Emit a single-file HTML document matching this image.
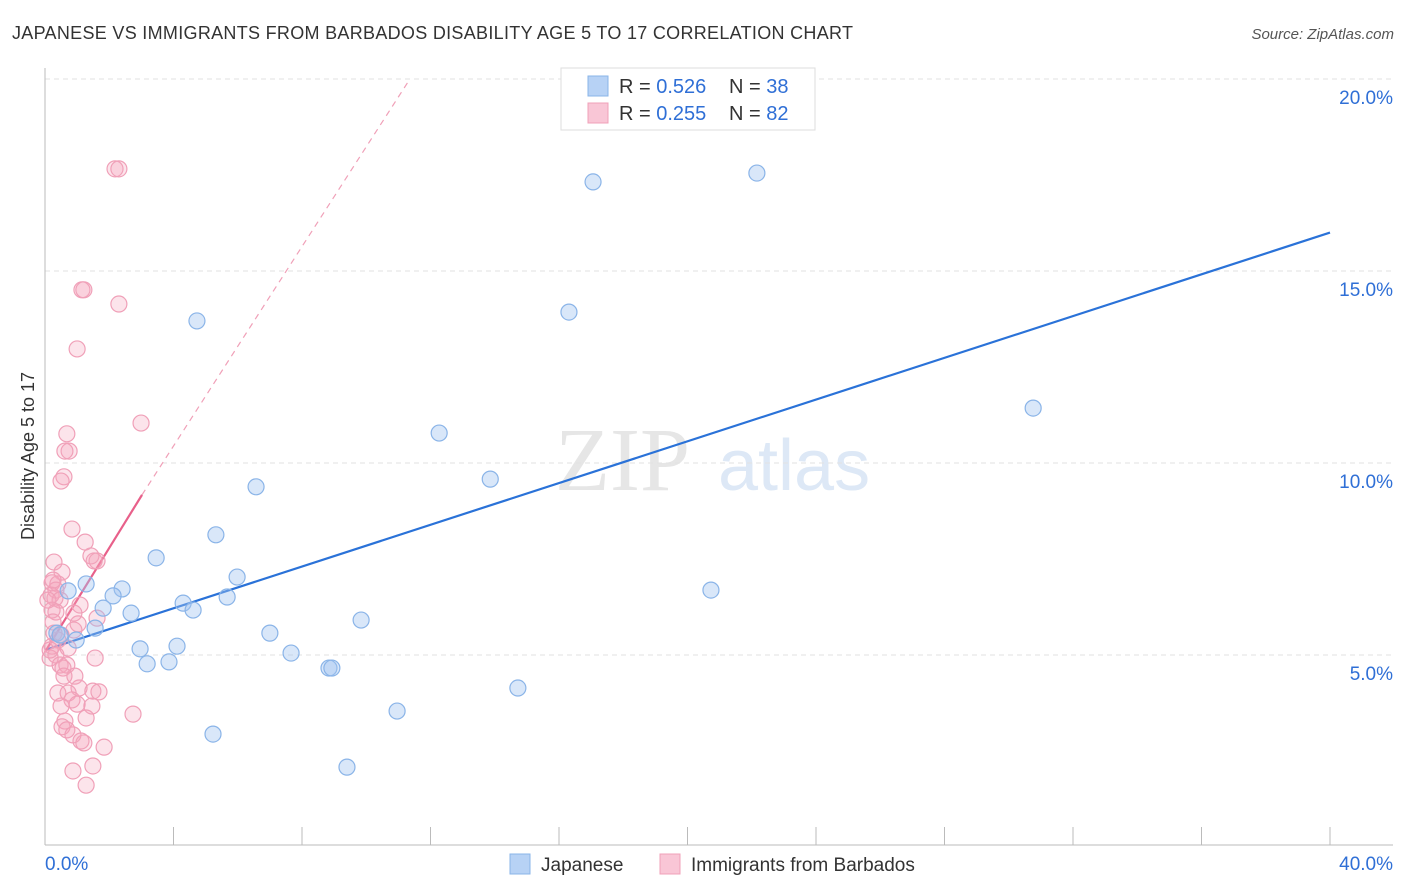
<!DOCTYPE html>
<html><head><meta charset="utf-8"><style>
body{margin:0;background:#fff;font-family:"Liberation Sans",sans-serif}
svg{display:block}
</style></head><body>
<svg id="chart" width="1406" height="892">
<text x="12" y="39" font-size="18" fill="#333" textLength="841">JAPANESE VS IMMIGRANTS FROM BARBADOS DISABILITY AGE 5 TO 17 CORRELATION CHART</text>
<text x="1394" y="39" font-size="15" fill="#555" font-style="italic" text-anchor="end">Source: ZipAtlas.com</text>
<text x="0" y="0" transform="translate(34,456) rotate(-90)" font-size="18" fill="#333" text-anchor="middle">Disability Age 5 to 17</text>
<g><text x="555" y="490" font-size="90" fill="#e6e6e6" font-family="Liberation Serif,serif">ZIP</text><text x="718" y="490" font-size="72" fill="#dde8f6">atlas</text></g>
<g id="grid"></g><g id="axes"></g><g id="lines"></g><g id="pts"></g>
<g>
<rect x="561" y="68" width="254" height="62" fill="#fff" stroke="#ddd"/>
<rect x="588" y="76" width="20" height="20" fill="#b7d2f5" stroke="#8ab4e8"/>
<text x="619" y="93" font-size="20" fill="#333">R = <tspan fill="#2f6fd6">0.526</tspan></text>
<text x="729" y="93" font-size="20" fill="#333">N = <tspan fill="#2f6fd6">38</tspan></text>
<rect x="588" y="103" width="20" height="20" fill="#f9c6d6" stroke="#f0a0b8"/>
<text x="619" y="120" font-size="20" fill="#333">R = <tspan fill="#2f6fd6">0.255</tspan></text>
<text x="729" y="120" font-size="20" fill="#333">N = <tspan fill="#2f6fd6">82</tspan></text>
</g>
<g>
<rect x="510" y="854" width="20" height="20" fill="#b7d2f5" stroke="#8ab4e8"/>
<text x="541" y="871" font-size="19" fill="#333">Japanese</text>
<rect x="660" y="854" width="20" height="20" fill="#f9c6d6" stroke="#f0a0b8"/>
<text x="691" y="871" font-size="19" fill="#333">Immigrants from Barbados</text>
</g>
</svg>
<script>
const yTicks=[5,10,15,20];
const xTickLabels=["0.0%","40.0%"];
const blueX=[4.73,17.06,22.16,16.31,30.76,12.27,13.86,6.57,5.32,3.46,5.98,20.73,2.40,1.28,2.12,4.30,5.67,1.81,4.61,2.68,9.84,1.56,0.37,7.00,4.11,2.96,7.66,3.18,3.86,8.84,8.93,14.72,10.96,5.23,9.40,0.97,0.72,0.47];
const blueY=[13.70,17.32,17.55,13.93,11.43,10.78,9.58,9.38,8.13,7.53,7.03,6.69,6.72,6.85,6.54,6.35,6.51,6.22,6.17,6.09,5.91,5.70,5.57,5.57,5.23,5.16,5.05,4.77,4.82,4.66,4.66,4.14,3.54,2.94,2.08,5.39,6.67,5.52];
const pinkX=[2.18,2.30,1.15,1.21,2.30,1.00,2.99,0.68,0.75,0.62,0.59,0.50,0.84,1.25,1.43,1.62,1.53,0.28,0.53,0.22,0.40,0.34,0.19,0.31,0.47,1.09,0.22,0.34,0.90,1.62,0.25,1.03,0.28,0.50,0.90,0.40,0.22,0.72,0.34,1.56,0.16,0.47,0.68,0.56,0.93,0.59,1.06,0.40,1.49,1.68,0.72,0.84,1.00,1.46,0.50,1.28,2.74,0.62,0.53,0.68,0.87,1.12,1.21,1.84,1.49,0.87,1.28,0.16,0.09,0.25];
const pinkY=[17.66,17.66,14.51,14.51,14.14,12.97,11.04,10.76,10.31,10.31,9.64,9.53,8.28,7.94,7.58,7.45,7.45,7.42,7.16,6.88,6.85,6.69,6.56,6.48,6.43,6.30,6.17,6.12,6.09,5.96,5.86,5.81,5.57,5.52,5.65,5.39,5.23,5.18,5.00,4.92,4.92,4.74,4.74,4.66,4.45,4.45,4.14,4.01,4.06,4.04,4.01,3.83,3.72,3.67,3.67,3.36,3.46,3.28,3.13,3.05,2.92,2.76,2.71,2.60,2.11,1.98,1.61,5.13,6.43,6.95];
const blueLine=[[0,5.13],[40,16.0]];
const pinkSolid=[[0,5.08],[3.02,9.17]];
const pinkDash=[[3.02,9.17],[11.36,20]];
const X=v=>45+v/40*1285, Y=v=>847-v*38.4;
const NS="http://www.w3.org/2000/svg";
function mk(t,a,p){const e=document.createElementNS(NS,t);for(const k in a)e.setAttribute(k,a[k]);p.appendChild(e);return e;}
const grid=document.getElementById('grid'),axes=document.getElementById('axes'),lines=document.getElementById('lines'),pts=document.getElementById('pts');
yTicks.forEach(v=>{
 const l=mk('line',{x1:45,x2:1393,y1:Y(v),y2:Y(v),stroke:'#e2e2e2','stroke-dasharray':'5,4'},grid);
 
 
 const t=mk('text',{x:1393,y:Y(v)+25,'font-size':19,fill:'#2f6fd6','text-anchor':'end'},axes);
 t.textContent=v.toFixed(1)+'%';
 
 
});
mk('line',{x1:45,x2:45,y1:68,y2:845,stroke:'#bbb'},axes);
mk('line',{x1:45,x2:1393,y1:845,y2:845,stroke:'#bbb'},axes);
for(let i=0;i<=10;i++){const tk=mk('line',{x1:X(i*4),x2:X(i*4),y1:827,y2:845,stroke:'#bbb'},axes);
 
 }
const xl0=mk('text',{x:45,y:870,'font-size':19,fill:'#2f6fd6'},axes);xl0.textContent=xTickLabels[0];


const xl1=mk('text',{x:1393,y:870,'font-size':19,fill:'#2f6fd6','text-anchor':'end'},axes);xl1.textContent=xTickLabels[1];


function seg(p,attrs,name){const l=mk('line',Object.assign({x1:X(p[0][0]),y1:Y(p[0][1]),x2:X(p[1][0]),y2:Y(p[1][1])},attrs),lines);
 
 }
seg(pinkDash,{stroke:'#f0a0b8','stroke-width':1.2,'stroke-dasharray':'6,5'},'barbados-trend-extension');
seg(blueLine,{stroke:'#2a72d8','stroke-width':2.2},'japanese-trend-line');
seg(pinkSolid,{stroke:'#e8608a','stroke-width':2.2},'barbados-trend-line');
pinkX.forEach((x,i)=>{const c=mk('circle',{cx:X(x),cy:Y(pinkY[i]),r:8,fill:'rgba(245,165,190,0.3)',stroke:'#f0a0b8','stroke-width':1.2},pts);
 
 });
blueX.forEach((x,i)=>{const c=mk('circle',{cx:X(x),cy:Y(blueY[i]),r:8,fill:'rgba(160,196,240,0.4)',stroke:'#8ab4e8','stroke-width':1.2},pts);
 
 });
</script>
</body></html>
